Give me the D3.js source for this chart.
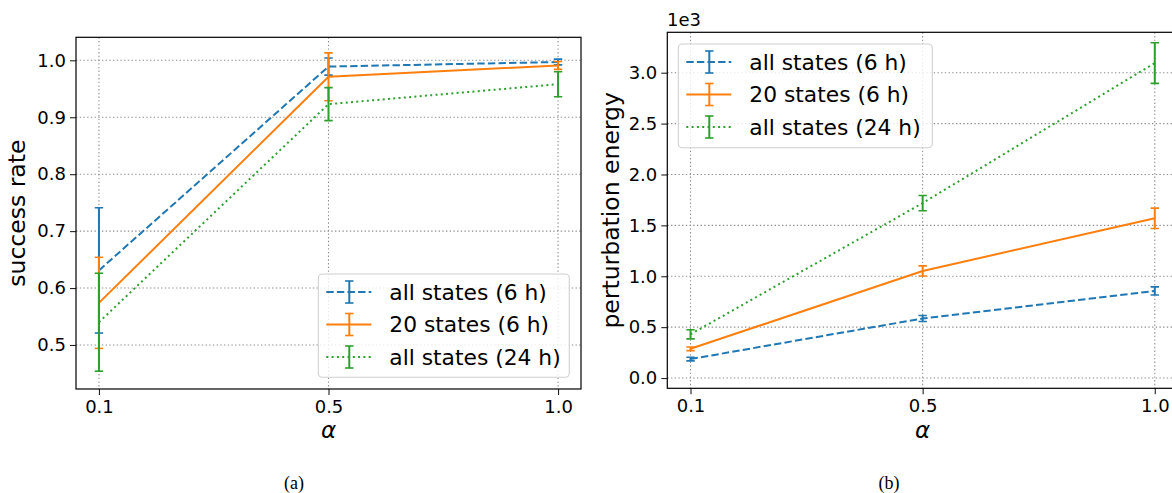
<!DOCTYPE html>
<html>
<head>
<meta charset="utf-8">
<script src="https://cdn.jsdelivr.net/npm/d3@7"></script>
<style>
  html, body { margin: 0; padding: 0; background: #fff; }
  svg { display: block; }
  text { font-family: "DejaVu Sans", sans-serif; fill: #000; }
</style>
</head>
<body>
<svg id="chart" width="1172" height="493"></svg>
<script>
// ---------- data ----------
const alphas = ["0.1", "0.5", "1.0"];
const seriesNames = ["all states (6 h)", "20 states (6 h)", "all states (24 h)"];

// (a) success rate
const successAll6 = [0.631, 0.989, 0.997];
const successAll6Err = [0.110, 0.015, 0.005];
const success20 = [0.574, 0.971, 0.991];
const success20Err = [0.080, 0.042, 0.007];
const successAll24 = [0.540, 0.923, 0.958];
const successAll24Err = [0.086, 0.029, 0.022];
const successTicks = [0.5, 0.6, 0.7, 0.8, 0.9, 1.0];

// (b) perturbation energy
const energyAll6 = [186, 585, 856];
const energyAll6Err = [18, 30, 40];
const energy20 = [287, 1052, 1569];
const energy20Err = [18, 50, 100];
const energyAll24 = [430, 1719, 3095];
const energyAll24Err = [45, 75, 200];
const energyTicks = [0, 500, 1000, 1500, 2000, 2500, 3000];

const colors = ["#1f77b4", "#ff7f0e", "#2ca02c"];
const dashes = ["7.4,3.2", null, "2,3.3"];

// ---------- drawing ----------
const svg = d3.select("#chart");

function panel(cfg) {
  const g = svg.append("g");
  const x = d3.scalePoint().domain(alphas).range([cfg.left, cfg.right]).padding(0.1);
  const y = d3.scaleLinear().domain(cfg.yDomain).range([cfg.bottom, cfg.top]);

  const clipId = "clip" + cfg.id;
  svg.append("clipPath").attr("id", clipId).append("rect")
    .attr("x", cfg.left).attr("y", cfg.top)
    .attr("width", cfg.right - cfg.left).attr("height", cfg.bottom - cfg.top);

  // grid
  const grid = g.append("g").attr("clip-path", `url(#${clipId})`);
  grid.selectAll("line.gy").data(cfg.yTicks).enter().append("line")
    .attr("x1", cfg.left).attr("x2", cfg.right)
    .attr("y1", d => y(d)).attr("y2", d => y(d))
    .attr("stroke", "#8f8f8f").attr("stroke-width", 1.1).attr("stroke-dasharray", "1.4,2.3");
  grid.selectAll("line.gx").data(alphas).enter().append("line")
    .attr("y1", cfg.top).attr("y2", cfg.bottom)
    .attr("x1", d => x(d)).attr("x2", d => x(d))
    .attr("stroke", "#8f8f8f").attr("stroke-width", 1.1).attr("stroke-dasharray", "1.4,2.3");

  // series
  const content = g.append("g").attr("clip-path", `url(#${clipId})`);
  cfg.series.forEach((s, i) => {
    const pts = alphas.map((a, k) => ({a, v: s.vals[k], e: s.errs[k]}));
    const line = d3.line().x(d => x(d.a)).y(d => y(d.v));
    const sg = content.append("g");
    sg.append("path").datum(pts).attr("d", line)
      .attr("fill", "none").attr("stroke", colors[i]).attr("stroke-width", 2)
      .attr("stroke-dasharray", dashes[i]);
    pts.forEach(p => {
      const cx = x(p.a), y1 = y(p.v - p.e), y2 = y(p.v + p.e);
      sg.append("line").attr("x1", cx).attr("x2", cx).attr("y1", y1).attr("y2", y2)
        .attr("stroke", colors[i]).attr("stroke-width", 2);
      [y1, y2].forEach(yy => sg.append("line")
        .attr("x1", cx - 4.2).attr("x2", cx + 4.2).attr("y1", yy).attr("y2", yy)
        .attr("stroke", colors[i]).attr("stroke-width", 1.6));
    });
  });

  // axes
  const xAxis = d3.axisBottom(x).tickSize(6).tickPadding(5);
  const yAxis = d3.axisLeft(y).tickValues(cfg.yTicks).tickSize(6).tickPadding(4)
    .tickFormat(cfg.yFormat);
  const gx = g.append("g").attr("transform", `translate(0,${cfg.bottom})`).call(xAxis);
  const gy = g.append("g").attr("transform", `translate(${cfg.left},0)`).call(yAxis);
  [gx, gy].forEach(a => {
    a.select(".domain").remove();
    a.selectAll(".tick line").attr("stroke", "#222").attr("stroke-width", 1.1);
    a.selectAll(".tick text").style("font-family", "DejaVu Sans")
      .style("font-size", "18px").attr("fill", "#000");
  });

  // frame
  g.append("rect").attr("x", cfg.left).attr("y", cfg.top)
    .attr("width", cfg.right - cfg.left).attr("height", cfg.bottom - cfg.top)
    .attr("fill", "none").attr("stroke", "#000").attr("stroke-width", 1.2);

  // labels
  g.append("text").attr("x", (cfg.left + cfg.right) / 2).attr("y", 438)
    .attr("text-anchor", "middle").style("font-size", "23px").style("font-style", "italic")
    .text("α");
  g.append("text")
    .attr("transform", `translate(${cfg.ylabX},${(cfg.top + cfg.bottom) / 2}) rotate(-90)`)
    .attr("text-anchor", "middle").style("font-size", "23.5px").text(cfg.ylabel);

  // legend
  const L = cfg.legend;
  const lg = g.append("g");
  lg.append("rect").attr("x", L.x).attr("y", L.y).attr("width", L.w).attr("height", L.h)
    .attr("rx", 4).attr("fill", "#fff").attr("fill-opacity", 0.8)
    .attr("stroke", "#d0d0d0").attr("stroke-width", 1.1);
  const rows = [18, 50.5, 83];
  seriesNames.forEach((name, i) => {
    const cy = L.y + rows[i];
    lg.append("line").attr("x1", L.x + 8).attr("x2", L.x + 53).attr("y1", cy).attr("y2", cy)
      .attr("stroke", colors[i]).attr("stroke-width", 2).attr("stroke-dasharray", dashes[i]);
    const ex = L.x + 31;
    lg.append("line").attr("x1", ex).attr("x2", ex).attr("y1", cy - 11).attr("y2", cy + 11)
      .attr("stroke", colors[i]).attr("stroke-width", 2);
    [cy - 11, cy + 11].forEach(yy => lg.append("line")
      .attr("x1", ex - 4.2).attr("x2", ex + 4.2).attr("y1", yy).attr("y2", yy)
      .attr("stroke", colors[i]).attr("stroke-width", 1.6));
    lg.append("text").attr("x", L.x + 71).attr("y", cy + 7.5)
      .style("font-size", "21.8px").text(name);
  });
  return g;
}

panel({
  id: "a", left: 76, right: 581, top: 37.3, bottom: 389,
  yDomain: [0.4227, 1.0404], yTicks: successTicks, yFormat: d3.format(".1f"),
  ylabel: "success rate", ylabX: 25,
  series: [
    {vals: successAll6, errs: successAll6Err},
    {vals: success20, errs: success20Err},
    {vals: successAll24, errs: successAll24Err}
  ],
  legend: {x: 318.3, y: 274, w: 251, h: 103.3}
});

panel({
  id: "b", left: 667.3, right: 1178, top: 32.3, bottom: 388.3,
  yDomain: [-101, 3397], yTicks: energyTicks, yFormat: d => (d / 1000).toFixed(1),
  ylabel: "perturbation energy", ylabX: 619,
  series: [
    {vals: energyAll6, errs: energyAll6Err},
    {vals: energy20, errs: energy20Err},
    {vals: energyAll24, errs: energyAll24Err}
  ],
  legend: {x: 678.3, y: 44, w: 254, h: 103.7}
});

// offset text
svg.append("text").attr("x", 667).attr("y", 26).style("font-size", "18px").text("1e3");

// captions
svg.append("text").attr("x", 294).attr("y", 489).attr("text-anchor", "middle")
  .style("font-family", "'Liberation Serif', serif").style("font-size", "18px").text("(a)");
svg.append("text").attr("x", 889).attr("y", 489).attr("text-anchor", "middle")
  .style("font-family", "'Liberation Serif', serif").style("font-size", "18px").text("(b)");
</script>
</body>
</html>
